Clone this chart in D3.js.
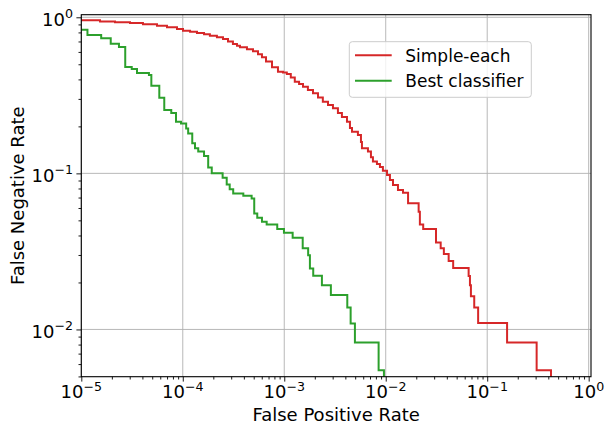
<!DOCTYPE html>
<html>
<head>
<meta charset="utf-8">
<script src="https://cdn.jsdelivr.net/npm/d3@7"></script>
<style>
  body { margin: 0; background: #fff; }
  text { font-family: "DejaVu Sans", sans-serif; fill: #000; }
</style>
</head>
<body>
<svg id="chart" width="606" height="424"></svg>
<script>
// step curves: x = false positive rate, y = false negative rate
let redFpr = [5e-6, 1.53e-5, 2.15e-5, 3.02e-5, 4.05e-5, 5.57e-5, 6.99e-5, 8.77e-5, 1.005e-4, 1.18e-4,
  1.38e-4, 1.62e-4, 1.85e-4, 2.17e-4, 2.49e-4, 2.79e-4, 3.12e-4, 3.42e-4, 3.66e-4, 4.29e-4,
  4.92e-4, 5.51e-4, 6.03e-4, 6.61e-4, 7.57e-4, 8.67e-4, 9.71e-4, 1.06e-3, 1.16e-3, 1.27e-3,
  1.4e-3, 1.53e-3, 1.71e-3, 1.92e-3, 2.15e-3, 2.4e-3, 2.7e-3, 3.02e-3, 3.38e-3, 3.7e-3,
  4.15e-3, 4.44e-3, 4.65e-3, 5.32e-3, 5.7e-3, 5.83e-3, 6.68e-3, 7.15e-3, 7.48e-3, 8.19e-3,
  8.77e-3, 9.38e-3, 1.03e-2, 1.1e-2, 1.18e-2, 1.32e-2, 1.48e-2, 1.66e-2, 2.11e-2, 2.17e-2,
  2.34e-2, 3.13e-2, 3.48e-2, 3.74e-2, 4.17e-2, 4.62e-2, 6.56e-2, 6.76e-2, 6.91e-2, 7.45e-2,
  8.14e-2, 0.157, 0.307, 0.425];
let redFnr = [0.957, 0.94, 0.93, 0.919, 0.902, 0.884, 0.863, 0.841, 0.821, 0.807,
  0.793, 0.778, 0.762, 0.744, 0.726, 0.7, 0.674, 0.658, 0.642, 0.624,
  0.605, 0.579, 0.554, 0.521, 0.478, 0.448, 0.443, 0.433, 0.411, 0.386,
  0.374, 0.359, 0.342, 0.326, 0.306, 0.288, 0.274, 0.261, 0.244, 0.23,
  0.214, 0.195, 0.185, 0.176, 0.159, 0.145, 0.138, 0.127, 0.119, 0.115,
  0.11, 0.104, 0.0975, 0.0906, 0.0841, 0.0782, 0.0751, 0.0643, 0.0567, 0.0471,
  0.044, 0.0361, 0.0331, 0.0304, 0.0275, 0.0248, 0.022, 0.0192, 0.0163, 0.0138,
  0.011, 0.00826, 0.00548, 0.004];

let greenFpr = [5e-6, 1.15e-5, 1.57e-5, 1.95e-5, 2.35e-5, 2.71e-5, 3.14e-5, 3.54e-5, 4.64e-5, 4.9e-5,
  5.87e-5, 6.57e-5, 7.7e-5, 8.57e-5, 9.6e-5, 1.08e-4, 1.13e-4, 1.24e-4, 1.32e-4, 1.42e-4,
  1.62e-4, 1.78e-4, 1.93e-4, 2.47e-4, 2.71e-4, 2.9e-4, 3.14e-4, 3.95e-4, 4.77e-4, 5.06e-4,
  5.42e-4, 6.03e-4, 6.71e-4, 8.53e-4, 9.93e-4, 1.21e-3, 1.52e-3, 1.72e-3, 1.79e-3, 1.93e-3,
  2.35e-3, 2.88e-3, 4.18e-3, 4.51e-3, 4.97e-3, 8.51e-3, 9.6e-3];
let greenFnr = [0.833, 0.77, 0.733, 0.677, 0.645, 0.48, 0.466, 0.44, 0.427, 0.364,
  0.305, 0.255, 0.244, 0.214, 0.209, 0.194, 0.18, 0.156, 0.145, 0.138,
  0.129, 0.109, 0.1, 0.0937, 0.085, 0.079, 0.0744, 0.0719, 0.0691, 0.0554,
  0.052, 0.049, 0.0471, 0.044, 0.0416, 0.0387, 0.0331, 0.0299, 0.0246, 0.0221,
  0.0192, 0.0166, 0.0138, 0.0109, 0.00826, 0.00548, 0.004];

let seriesNames = ["Simple-each", "Best classifier"];
let seriesColours = ["#d62728", "#2ca02c"];
let xTickExps = [-5, -4, -3, -2, -1, 0];
let yTickExps = [0, -1, -2];

let margin = { left: 81.3, right: 591, top: 14.7, bottom: 376.7 };

let svg = d3.select("#chart");

let x = d3.scaleLog().domain([1e-5, 1.054]).range([margin.left, margin.right]);
let y = d3.scaleLog().domain([0.00498, 1.039]).range([margin.bottom, margin.top]);

// minor tick values (2..9 times each decade)
function minorTicks(scale) {
  let [lo, hi] = scale.domain();
  let out = [];
  for (let e = Math.floor(Math.log10(lo)); e <= Math.ceil(Math.log10(hi)); e++) {
    for (let m = 2; m < 10; m++) {
      let v = m * Math.pow(10, e);
      if (v >= lo && v <= hi) out.push(v);
    }
  }
  return out;
}

// grid
let grid = svg.append("g").attr("stroke", "#b0b0b0").attr("stroke-width", 0.9);
xTickExps.forEach((e) => {
  grid.append("line")
    .attr("x1", x(Math.pow(10, e))).attr("x2", x(Math.pow(10, e)))
    .attr("y1", margin.top).attr("y2", margin.bottom);
});
yTickExps.forEach((e) => {
  grid.append("line")
    .attr("x1", margin.left).attr("x2", margin.right)
    .attr("y1", y(Math.pow(10, e))).attr("y2", y(Math.pow(10, e)));
});

svg.append("clipPath").attr("id", "plot-clip")
  .append("rect")
  .attr("x", margin.left).attr("y", margin.top)
  .attr("width", margin.right - margin.left)
  .attr("height", margin.bottom - margin.top);

let line = d3.line()
  .x((d) => x(d[0]))
  .y((d) => y(d[1]))
  .curve(d3.curveStepAfter);

let allSeries = [
  d3.zip(redFpr, redFnr),
  d3.zip(greenFpr, greenFnr),
];

allSeries.forEach((pts, i) => {
  svg.append("path")
    .attr("clip-path", "url(#plot-clip)")
    .attr("d", line(pts))
    .attr("fill", "none")
    .attr("stroke", seriesColours[i])
    .attr("stroke-width", 2);
});

// axes
let xAxis = d3.axisBottom(x).tickValues(xTickExps.map((e) => Math.pow(10, e)))
  .tickSize(4.9).tickFormat("");
let xMinor = d3.axisBottom(x).tickValues(minorTicks(x)).tickSize(2.8).tickFormat("");
let yAxis = d3.axisLeft(y).tickValues(yTickExps.map((e) => Math.pow(10, e)))
  .tickSize(4.9).tickFormat("");
let yMinor = d3.axisLeft(y).tickValues(minorTicks(y)).tickSize(2.8).tickFormat("");

[xAxis, xMinor].forEach((a) => {
  svg.append("g").attr("transform", `translate(0,${margin.bottom})`).call(a)
    .call((g) => g.select(".domain").remove())
    .selectAll("line").attr("stroke", "#000").attr("stroke-width", 0.9);
});
[yAxis, yMinor].forEach((a) => {
  svg.append("g").attr("transform", `translate(${margin.left},0)`).call(a)
    .call((g) => g.select(".domain").remove())
    .selectAll("line").attr("stroke", "#000").attr("stroke-width", 0.9);
});

// tick labels as 10^n
function powerLabel(sel, exp) {
  sel.append("tspan").text("10");
  sel.append("tspan")
    .attr("dy", -7.5)
    .attr("font-size", 12.6)
    .text(exp < 0 ? "\u2212" + Math.abs(exp) : String(exp));
}

xTickExps.forEach((e) => {
  svg.append("text")
    .attr("x", x(Math.pow(10, e)))
    .attr("y", 398)
    .attr("text-anchor", "middle")
    .attr("font-size", 18)
    .call(powerLabel, e);
});
yTickExps.forEach((e) => {
  svg.append("text")
    .attr("x", 73)
    .attr("y", y(Math.pow(10, e)) + 8.5)
    .attr("text-anchor", "end")
    .attr("font-size", 18)
    .call(powerLabel, e);
});

// frame
svg.append("rect")
  .attr("x", margin.left).attr("y", margin.top)
  .attr("width", margin.right - margin.left)
  .attr("height", margin.bottom - margin.top)
  .attr("fill", "none").attr("stroke", "#000").attr("stroke-width", 1.1);

// axis labels
svg.append("text")
  .attr("x", (margin.left + margin.right) / 2)
  .attr("y", 420.5)
  .attr("text-anchor", "middle")
  .attr("font-size", 18)
  .text("False Positive Rate");

svg.append("text")
  .attr("transform", `translate(24,${(margin.top + margin.bottom) / 2}) rotate(-90)`)
  .attr("text-anchor", "middle")
  .attr("font-size", 18)
  .text("False Negative Rate");

// legend
let legend = svg.append("g");
legend.append("rect")
  .attr("x", 349.3).attr("y", 41.7)
  .attr("width", 182).attr("height", 55.6)
  .attr("rx", 3)
  .attr("fill", "#fff").attr("fill-opacity", 0.8)
  .attr("stroke", "#cccccc").attr("stroke-width", 1);

seriesNames.forEach((name, i) => {
  let ly = 55.3 + i * 25.4;
  legend.append("line")
    .attr("x1", 355).attr("x2", 391.7)
    .attr("y1", ly).attr("y2", ly)
    .attr("stroke", seriesColours[i]).attr("stroke-width", 2);
  legend.append("text")
    .attr("x", 405.3).attr("y", ly + 6.3)
    .attr("font-size", 17)
    .text(name);
});
</script>
</body>
</html>
